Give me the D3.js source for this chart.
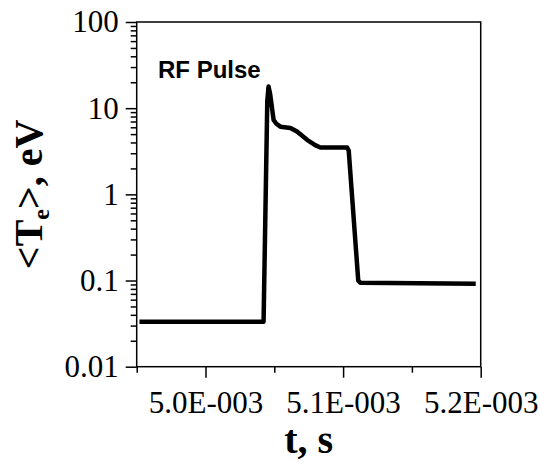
<!DOCTYPE html>
<html>
<head>
<meta charset="utf-8">
<script src="https://cdn.jsdelivr.net/npm/d3@7"></script>
<style>
  body { margin: 0; background: #fff; }
  svg { display: block; }
</style>
</head>
<body>
<div id="chart"></div>
<script>
// time (s) and electron temperature (eV)
const timeValues = [4.952e-3, 5.0422e-3, 5.0449e-3, 5.0458e-3, 5.0470e-3, 5.0495e-3, 5.0515e-3, 5.0544e-3,
    5.0617e-3, 5.0665e-3, 5.0738e-3, 5.0800e-3, 5.0835e-3, 5.1029e-3, 5.1041e-3, 5.1110e-3, 5.1125e-3, 5.1964e-3];
const teValues = [0.0333, 0.0333, 12, 17.8, 14.5, 7.3, 6.6, 6.1,
    5.9, 5.35, 4.3, 3.7, 3.5, 3.5, 3.2, 0.1, 0.094, 0.092];

const xMajorTicks = [5.0e-3, 5.1e-3, 5.2e-3];
const xMinorTicks = [4.95e-3, 5.05e-3, 5.15e-3];
const yMajorTicks = [0.01, 0.1, 1, 10, 100];
const yTickLabels = ["0.01", "0.1", "1", "10", "100"];

const width = 540, height = 462;
const margin = {top: 22, right: 59.3, bottom: 95.3, left: 136.7};

let svg = d3.select("#chart").append("svg")
    .attr("width", width)
    .attr("height", height);

let x = d3.scaleLinear()
    .domain([4.95e-3, 5.2e-3])
    .range([margin.left, width - margin.right]);

let y = d3.scaleLog()
    .domain([0.01, 100])
    .range([height - margin.bottom, margin.top]);

// minor y ticks 2..9 in each decade
let yMinorTicks = [];
for (let i = 0; i < yMajorTicks.length - 1; i++) {
    for (let k = 2; k <= 9; k++) yMinorTicks.push(yMajorTicks[i] * k);
}

const tickFont = "'Liberation Serif', 'Times New Roman', serif";

// x axis
let xAxis = d3.axisBottom(x)
    .tickValues(xMajorTicks)
    .tickSize(11)
    .tickPadding(13)
    .tickFormat(d => (d * 1000).toFixed(1) + "E-003");

svg.append("g")
    .attr("transform", `translate(0, ${height - margin.bottom})`)
    .call(xAxis);

svg.append("g")
    .attr("transform", `translate(0, ${height - margin.bottom})`)
    .call(d3.axisBottom(x).tickValues(xMinorTicks).tickSize(6).tickFormat(""));

// y axis
let yAxis = d3.axisLeft(y)
    .tickValues(yMajorTicks)
    .tickSize(11)
    .tickPadding(7)
    .tickFormat((d, i) => yTickLabels[i]);

svg.append("g")
    .attr("transform", `translate(${margin.left}, 0)`)
    .call(yAxis);

svg.append("g")
    .attr("transform", `translate(${margin.left}, 0)`)
    .call(d3.axisLeft(y).tickValues(yMinorTicks).tickSize(6).tickFormat(""));

svg.selectAll(".domain").remove();
svg.selectAll(".tick line").attr("stroke", "#000").attr("stroke-width", 1.5);
svg.selectAll(".tick text")
    .attr("fill", "#000")
    .style("font-family", tickFont)
    .style("font-size", "31px");

// frame
svg.append("rect")
    .attr("x", margin.left)
    .attr("y", margin.top)
    .attr("width", width - margin.left - margin.right)
    .attr("height", height - margin.top - margin.bottom)
    .attr("fill", "none")
    .attr("stroke", "#000")
    .attr("stroke-width", 1.5);

// data line
let line = d3.line()
    .x((d, i) => x(timeValues[i]))
    .y(d => y(d));

svg.append("path")
    .datum(teValues)
    .attr("d", line)
    .attr("fill", "none")
    .attr("stroke", "#000")
    .attr("stroke-width", 4.5)
    .attr("stroke-linejoin", "round")
    .attr("stroke-linecap", "butt");

// annotation
svg.append("text")
    .attr("x", 158)
    .attr("y", 78)
    .style("font-family", "'Liberation Sans', Arial, sans-serif")
    .style("font-weight", "bold")
    .style("font-size", "24px")
    .text("RF Pulse");

// x title
svg.append("text")
    .attr("x", (margin.left + width - margin.right) / 2)
    .attr("y", 453)
    .attr("text-anchor", "middle")
    .style("font-family", tickFont)
    .style("font-weight", "bold")
    .style("font-size", "40px")
    .text("t, s");

// y title with subscript
let yTitle = svg.append("text")
    .attr("transform", `translate(42, ${(margin.top + height - margin.bottom) / 2}) rotate(-90)`)
    .attr("text-anchor", "middle")
    .style("font-family", tickFont)
    .style("font-weight", "bold")
    .style("font-size", "40px");
yTitle.append("tspan").text("<T");
yTitle.append("tspan").attr("dy", 7).style("font-size", "24px").text("e");
yTitle.append("tspan").attr("dy", -7).text(">, eV");
</script>
</body>
</html>
